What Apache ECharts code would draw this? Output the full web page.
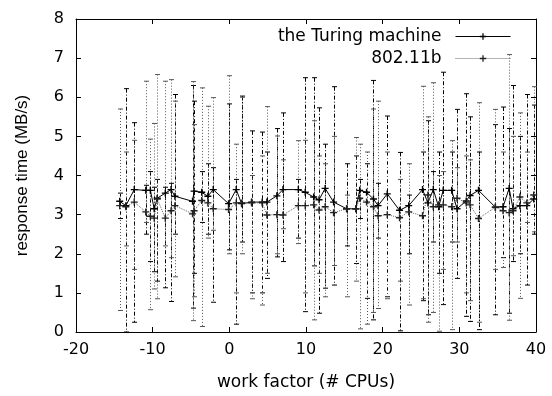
<!DOCTYPE html>
<html>
  <head>
    <meta charset="utf-8" />
    <title>response time</title>
    <script src="https://cdn.jsdelivr.net/npm/echarts@6/dist/echarts.min.js"></script>
  </head>
  <body style="margin:0">
    <div id="main" style="width: 552px;height:396px; background-color: white"></div>
    <script type="text/javascript">
      // work factor (x) of every measured point, shared by both series
      var factor = [-14.3, -13.5, -12.4, -10.9, -10.3, -9.8, -9.4, -8.35, -7.6, -7.1,
        -4.8, -4.6, -3.6, -2.8, -2.1, -0.1, 0.9, 1.6, 2.9, 4.3,
        4.9, 6.2, 7.0, 9.0, 9.9, 11.0, 11.7, 12.5, 13.6, 15.3,
        16.5, 17.0, 17.9, 18.8, 19.4, 20.6, 22.2, 23.4, 25.2, 25.9,
        26.6, 27.3, 27.9, 29.0, 29.7, 30.9, 31.4, 32.5, 34.7, 35.7,
        36.5, 37.0, 37.9, 38.8, 39.7];

      // the Turing machine
      var turing = [3.34, 3.23, 3.64, 3.62, 3.62, 3.15, 3.42, 3.55, 3.64, 3.47,
        3.34, 3.6, 3.57, 3.47, 3.64, 3.28, 3.64, 3.28, 3.32, 3.32,
        3.32, 3.48, 3.64, 3.64, 3.57, 3.45, 3.38, 3.67, 3.32, 3.15,
        3.15, 3.62, 3.57, 3.4, 3.23, 3.53, 3.11, 3.23, 3.64, 3.3,
        3.64, 3.2, 3.62, 3.62, 3.15, 3.35, 3.49, 3.62, 3.19, 3.2,
        3.67, 3.15, 3.23, 3.23, 3.40];
      var turingLow = [2.9, 0.0, 0.25, 2.5, 1.8, 1.54, 1.3, 1.13, 0.78, 2.5,
        0.61, 1.5, 2.8, 2.5, 0.76, 2.1, 0.2, 2.3, 1.0, 1.0,
        1.37, 1.92, 1.8, 2.4, 0.52, 1.69, 0.48, 1.12, 1.2, 2.2,
        1.75, 2.9, 0.86, 0.31, 2.4, 0.9, 0.03, 2.0, 0.8, 0.44,
        2.3, 1.5, 0.7, 2.3, 1.37, 0.4, 0.27, 0.06, 0.44, 1.9,
        0.48, 1.8, 2.0, 1.2, 2.5];
      var turingHigh = [3.55, 6.22, 5.35, 3.75, 4.1, 3.7, 3.9, 3.7, 3.8, 6.07,
        6.3, 5.9, 4.1, 4.3, 4.2, 5.83, 3.9, 6.03, 5.14, 5.11,
        4.6, 5.2, 5.6, 3.9, 6.5, 6.5, 5.73, 4.8, 6.27, 4.3,
        4.5, 3.9, 4.3, 6.43, 3.8, 5.52, 4.59, 3.5, 4.6, 5.4,
        4.1, 4.6, 6.64, 4.6, 5.69, 6.09, 5.5, 4.6, 5.3, 5.75,
        5.2, 6.3, 5.0, 6.07, 5.8];

      // 802.11b
      var wifi = [3.23, 3.2, 3.32, 3.07, 2.96, 2.91, 3.4, 2.91, 3.1, 3.23,
        3.02, 3.1, 3.36, 3.3, 3.15, 3.13, 3.3, 3.3, 3.3, 3.3,
        2.99, 3.0, 2.99, 3.23, 3.23, 3.25, 3.12, 3.2, 3.05, 3.15,
        3.15, 3.42, 3.32, 3.2, 2.97, 3.0, 2.92, 3.07, 2.97, 3.5,
        3.2, 3.25, 3.25, 3.2, 3.42, 3.3, 3.25, 2.9, 3.19, 3.1,
        3.05, 3.1, 3.45, 3.3, 3.5];
      var wifiLow = [0.55, 2.2, 1.6, 2.8, 0.57, 1.1, 0.85, 2.2, 1.9, 1.41,
        0.29, 0.9, 0.14, 2.4, 2.6, 2.0, 1.0, 2.0, 0.85, 0.69,
        1.5, 2.0, 2.64, 2.26, 1.0, 0.31, 1.5, 0.9, 1.7, 0.9,
        1.3, 0.08, 0.2, 0.5, 0.6, 0.85, 1.3, 0.69, 0.85, 0.25,
        0.5, 0.02, 1.6, 0.06, 2.3, 1.0, 0.8, 0.25, 1.6, 1.65,
        0.3, 1.95, 0.86, 2.8, 2.56];
      var wifiHigh = [5.7, 4.6, 4.9, 6.41, 4.93, 5.33, 6.58, 6.41, 6.45, 5.9,
        6.4, 5.3, 6.24, 5.77, 5.99, 6.55, 4.8, 6.0, 4.0, 4.5,
        5.76, 5.01, 4.4, 4.89, 4.9, 5.4, 4.5, 4.3, 5.0, 3.5,
        4.97, 4.8, 4.6, 5.7, 5.9, 4.6, 3.9, 4.3, 6.28, 5.5,
        6.37, 4.0, 4.1, 4.89, 4.2, 4.5, 4.4, 5.86, 5.69, 4.6,
        7.09, 5.0, 5.6, 4.6, 6.27];

      var seriesNames = ['the Turing machine', '802.11b'];

      var myChart = echarts.init(document.getElementById('main'));

      // gnuplot style "+" marker
      var plusSymbol = 'path://M4,0H6V4H10V6H6V10H4V6H0V4H4Z';

      function pairs(ys) {
        return factor.map(function (x, i) { return [x, ys[i]]; });
      }

      function bars(lo, hi) {
        return factor.map(function (x, i) { return [x, lo[i], hi[i]]; });
      }

      // vertical error bar with small caps
      function errorBar(color, dash) {
        return function (params, api) {
          var x = api.value(0);
          var top = api.coord([x, api.value(2)]);
          var bot = api.coord([x, api.value(1)]);
          var px = Math.round(top[0]) + 0.5;
          var w = 2.5;
          return {
            type: 'group',
            children: [
              { type: 'line', shape: { x1: px, y1: top[1], x2: px, y2: bot[1] },
                style: { stroke: color, lineWidth: 1, lineDash: dash, fill: null } },
              { type: 'line', shape: { x1: px - w, y1: top[1], x2: px + w, y2: top[1] },
                style: { stroke: color, lineWidth: 1, fill: null } },
              { type: 'line', shape: { x1: px - w, y1: bot[1], x2: px + w, y2: bot[1] },
                style: { stroke: color, lineWidth: 1, fill: null } }
            ]
          };
        };
      }

      var axisCommon = {
        type: 'value',
        axisLine: { show: true, onZero: false, lineStyle: { color: '#000', width: 1 } },
        axisTick: { show: true, inside: true, length: 5, lineStyle: { color: '#000' } },
        splitLine: { show: false }
      };

      var turingLine = { color: '#000', width: 1 };
      var wifiLine = { color: '#666', width: 1, type: [1, 1] };

      var option = {
        animation: false,
        textStyle: { fontFamily: 'DejaVu Sans' },
        grid: { left: 76, right: 16, top: 19, bottom: 62 },
        legend: {
          data: [
            { name: seriesNames[0], lineStyle: turingLine },
            { name: seriesNames[1], lineStyle: wifiLine }
          ],
          orient: 'vertical',
          align: 'right',
          right: 36,
          top: 23,
          itemWidth: 55,
          itemHeight: 8,
          itemGap: 5,
          textStyle: { fontSize: 17, color: '#000', fontFamily: 'DejaVu Sans', padding: [0, 9, 0, 0] }
        },
        xAxis: [
          Object.assign({}, axisCommon, {
            min: -20, max: 40, interval: 10,
            name: 'work factor (# CPUs)',
            nameLocation: 'middle',
            nameGap: 42,
            nameTextStyle: { fontSize: 17, color: '#000', fontFamily: 'DejaVu Sans' },
            axisLabel: { fontSize: 16, color: '#000', margin: 10 }
          }),
          Object.assign({}, axisCommon, {
            min: -20, max: 40, interval: 10, position: 'top',
            axisLabel: { show: false }
          })
        ],
        yAxis: [
          Object.assign({}, axisCommon, {
            min: 0, max: 8, interval: 1,
            name: 'response time (MB/s)',
            nameLocation: 'middle',
            nameGap: 45,
            nameTextStyle: { fontSize: 17, color: '#000', fontFamily: 'Liberation Sans' },
            axisLabel: { fontSize: 16, color: '#000', margin: 12 }
          }),
          Object.assign({}, axisCommon, {
            min: 0, max: 8, interval: 1, position: 'right',
            axisLabel: { show: false }
          })
        ],
        series: [
          {
            name: 'turing bars',
            type: 'custom',
            renderItem: errorBar('#000', [4, 2, 1, 2]),
            encode: { x: 0, y: [1, 2] },
            data: bars(turingLow, turingHigh),
            silent: true
          },
          {
            name: seriesNames[0],
            type: 'line',
            data: pairs(turing),
            symbol: plusSymbol,
            symbolSize: 7,
            itemStyle: { color: '#000' },
            lineStyle: turingLine
          },
          {
            name: 'wifi bars',
            type: 'custom',
            renderItem: errorBar('#555', [1, 2]),
            encode: { x: 0, y: [1, 2] },
            data: bars(wifiLow, wifiHigh),
            silent: true
          },
          {
            name: seriesNames[1],
            type: 'line',
            data: pairs(wifi),
            symbol: plusSymbol,
            symbolSize: 7,
            itemStyle: { color: '#222' },
            lineStyle: wifiLine
          }
        ]
      };

      myChart.setOption(option);
    </script>
  </body>
</html>
